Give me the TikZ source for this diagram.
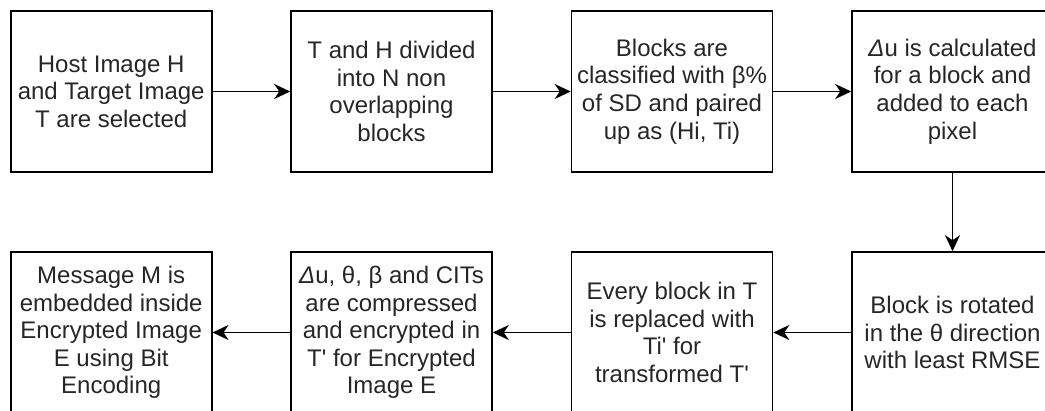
\documentclass[tikz,border=0pt]{standalone}
\usepackage{fontspec}
\setmainfont{Liberation Sans}
\usetikzlibrary{arrows.meta}
\newcommand{\sq}{\textquotesingle}
\begin{document}
\begin{tikzpicture}[x=1pt,y=-1pt,
  stepbox/.style={draw=black,line width=1.6pt,minimum width=201pt,minimum height=161pt,
    inner sep=0pt,align=center,text=black!85,font=\fontsize{24}{27.6}\selectfont},
  flow/.style={line width=1.6pt,-{Stealth[length=16pt,width=15pt,inset=5pt]}}]
\useasboundingbox (0,0) rectangle (1045,410);
\begin{scope}
\clip (0,0) rectangle (1045,410);
\node[stepbox] (b1) at (111.2,91.5) {Host Image H\\and Target Image\\T are selected};
\node[stepbox] (b2) at (391.5,91.5) {T and H divided\\into N non\\overlapping\\blocks};
\node[stepbox] (b3) at (672,91.5) {Blocks are\\classified with β\%\\of SD and paired\\up as (Hi, Ti)};
\node[stepbox] (b4) at (952.5,91.5) {\textit{Δ}u is calculated\\for a block and\\added to each\\pixel};
\node[stepbox] (b5) at (952.5,332.5) {Block is rotated\\in the θ direction\\with least RMSE};
\node[stepbox] (b6) at (672,332.5) {Every block in T\\is replaced with\\Ti\sq{} for\\transformed T\sq};
\node[stepbox] (b7) at (391.5,332.5) {\textit{Δ}u, θ, β and CITs\\are compressed\\and encrypted in\\T\sq{} for Encrypted\\Image E};
\node[stepbox] (b8) at (111.2,332.5) {Message M is\\embedded inside\\Encrypted Image\\E using Bit\\Encoding};
\draw[flow] (b1) -- (b2);
\draw[flow] (b2) -- (b3);
\draw[flow] (b3) -- (b4);
\draw[flow] (b4) -- (b5);
\draw[flow] (b5) -- (b6);
\draw[flow] (b6) -- (b7);
\draw[flow] (b7) -- (b8);
\end{scope}
\end{tikzpicture}
\end{document}
